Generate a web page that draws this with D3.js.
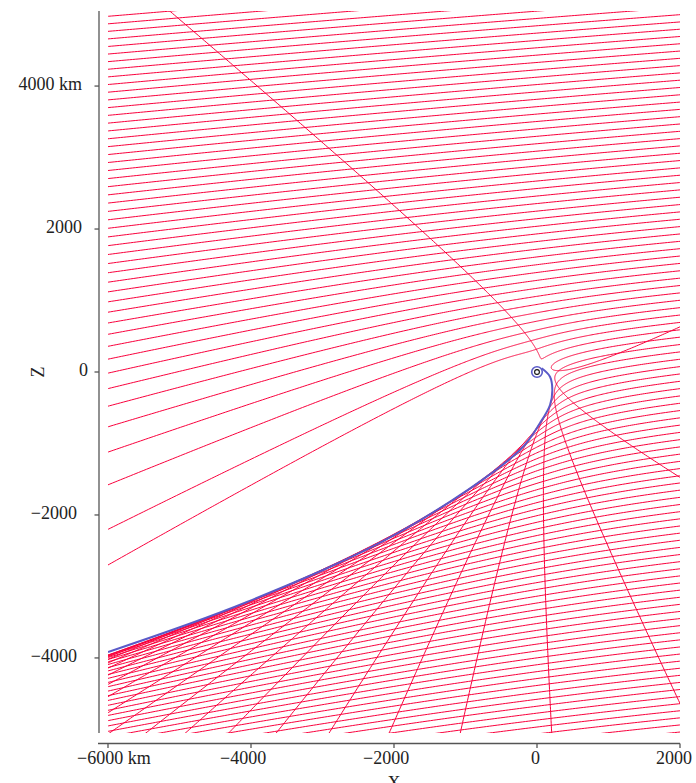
<!DOCTYPE html>
<html>
<head>
<meta charset="utf-8">
<script src="https://cdn.jsdelivr.net/npm/d3@7"></script>
<style>
  html, body { margin: 0; padding: 0; background: #fff; }
  svg { display: block; }
  text { font-family: "Liberation Serif", "DejaVu Serif", serif; fill: #222; }
</style>
</head>
<body>
<svg id="chart" width="696" height="783"></svg>
<script>
// Plot window (km)
const xDomain = [-6000, 2000];
const zDomain = [-5050, 5050];

// Tick labels
const xTicks = [-6000, -4000, -2000, 0, 2000];
const xTickLabels = ["\u22126000 km", "\u22124000", "\u22122000", "0", "2000"];
const zTicks = [4000, 2000, 0, -2000, -4000];
const zTickLabels = ["4000 km", "2000", "0", "\u22122000", "\u22124000"];

// Incoming stream: heading of the particles far upstream (degrees) and
// the impact parameters (km) of the traced trajectories
const beamHeadingDeg = 183.5;
const impactParameters = [
  -5313, -5213, -5113, -5013, -4913, -4813, -4713, -4613, -4513, -4413,
  -4313, -4213, -4113, -4013, -3913, -3813, -3713, -3613, -3513, -3413,
  -3313, -3213, -3113, -3013, -2913, -2813, -2713, -2613, -2513, -2413,
  -2313, -2213, -2113, -2013, -1913, -1813, -1713, -1613, -1513, -1413,
  -1313, -1213, -1113, -1013, -913, -813, -713, -613, -513, -413,
  -313, -213, -113, -13, 87, 187, 287, 387, 487, 587,
  687, 787, 887, 987, 1087, 1187, 1287, 1387, 1487, 1587,
  1687, 1787, 1887, 1987, 2087, 2187, 2287, 2387, 2487, 2587,
  2687, 2787, 2887, 2987, 3087, 3187, 3287, 3387, 3487, 3587,
  3687, 3787, 3887, 3987, 4087, 4187, 4287, 4387, 4487, 4587,
  4687, 4787, 4887, 4987, 5087, 5187, 5287, 5387, 5487, 5587,
  5687, 5787
];
// Field strengths (km): radial repulsion and transverse (gyrating) term
const radialStrength = 95;
const transverseStrength = 130;

// Envelope of the deflected stream (km)
const envelopeX = [66, 182, 214, 182, 42, -238, -1916, -4056, -6000];
const envelopeZ = [52, -66, -252, -462, -713, -1091, -2238, -3217, -3916];

// Central body (km)
const bodyX = 0, bodyZ = 0;

const svg = d3.select("#chart");
const x = d3.scaleLinear().domain(xDomain).range([108, 680]);
const y = d3.scaleLinear().domain(zDomain).range([733, 11]);

svg.append("defs").append("clipPath").attr("id", "plotclip")
  .append("rect")
  .attr("x", x(xDomain[0])).attr("y", y(zDomain[1]))
  .attr("width", x(xDomain[1]) - x(xDomain[0]))
  .attr("height", y(zDomain[0]) - y(zDomain[1]));

// Equations of motion: unit speed at infinity
function accel(px, pz, vx, vz) {
  const r2 = px * px + pz * pz;
  const r = Math.sqrt(r2);
  const r3 = r2 * r;
  return [
    radialStrength * px / r3 - transverseStrength * vz / r2,
    radialStrength * pz / r3 + transverseStrength * vx / r2
  ];
}

// RK4 integration of one trajectory, started far upstream
function trace(b) {
  const th = beamHeadingDeg * Math.PI / 180;
  const wx = Math.cos(th), wz = Math.sin(th);
  const nx = wz, nz = -wx;
  const L0 = 30000;
  let px = b * nx - L0 * wx, pz = b * nz - L0 * wz;
  const r0 = Math.hypot(px, pz);
  const sp = Math.sqrt(Math.max(0.01, 1 - 2 * radialStrength / r0));
  let vx = wx * sp, vz = wz * sp;
  const pts = [];
  for (let i = 0; i < 60000; i++) {
    const r = Math.hypot(px, pz);
    if (px > -9000 && px < 5000 && pz > -8000 && pz < 8000) pts.push([px, pz]);
    if (i > 10 && r > L0 + 100) break;
    const h = Math.max(0.25, Math.min(40, 0.02 * r));
    const a1 = accel(px, pz, vx, vz);
    const k1 = [vx, vz, a1[0], a1[1]];
    const a2 = accel(px + h / 2 * k1[0], pz + h / 2 * k1[1], vx + h / 2 * k1[2], vz + h / 2 * k1[3]);
    const k2 = [vx + h / 2 * k1[2], vz + h / 2 * k1[3], a2[0], a2[1]];
    const a3 = accel(px + h / 2 * k2[0], pz + h / 2 * k2[1], vx + h / 2 * k2[2], vz + h / 2 * k2[3]);
    const k3 = [vx + h / 2 * k2[2], vz + h / 2 * k2[3], a3[0], a3[1]];
    const a4 = accel(px + h * k3[0], pz + h * k3[1], vx + h * k3[2], vz + h * k3[3]);
    const k4 = [vx + h * k3[2], vz + h * k3[3], a4[0], a4[1]];
    px += h / 6 * (k1[0] + 2 * k2[0] + 2 * k3[0] + k4[0]);
    pz += h / 6 * (k1[1] + 2 * k2[1] + 2 * k3[1] + k4[1]);
    vx += h / 6 * (k1[2] + 2 * k2[2] + 2 * k3[2] + k4[2]);
    vz += h / 6 * (k1[3] + 2 * k2[3] + 2 * k3[3] + k4[3]);
  }
  return pts;
}

const line = d3.line().x(d => x(d[0])).y(d => y(d[1]));
const plot = svg.append("g").attr("clip-path", "url(#plotclip)");

plot.selectAll("path.traj")
  .data(impactParameters.map(trace))
  .join("path")
  .attr("class", "traj")
  .attr("d", line)
  .attr("fill", "none")
  .attr("stroke", "rgb(250,0,60)")
  .attr("stroke-width", 1);

plot.append("path")
  .datum(envelopeX.map((v, i) => [v, envelopeZ[i]]))
  .attr("d", d3.line().x(d => x(d[0])).y(d => y(d[1])).curve(d3.curveCatmullRom))
  .attr("fill", "none")
  .attr("stroke", "rgb(90,90,200)")
  .attr("stroke-width", 2);

// Central body
svg.append("circle").attr("cx", x(bodyX)).attr("cy", y(bodyZ)).attr("r", 5.3)
  .attr("fill", "#fff").attr("stroke", "rgb(90,90,200)").attr("stroke-width", 1.6);
svg.append("circle").attr("cx", x(bodyX)).attr("cy", y(bodyZ)).attr("r", 2.4)
  .attr("fill", "#fff").attr("stroke", "#111").attr("stroke-width", 1.1);

// Axes
const axisColor = "#555";
const yAxisX = 99, xAxisY = 743.5;
svg.append("line").attr("x1", yAxisX).attr("x2", yAxisX)
  .attr("y1", y(zDomain[1])).attr("y2", y(zDomain[0]))
  .attr("stroke", axisColor).attr("stroke-width", 1.3);
svg.append("line").attr("x1", yAxisX - 1).attr("x2", x(xDomain[1]))
  .attr("y1", xAxisY).attr("y2", xAxisY)
  .attr("stroke", axisColor).attr("stroke-width", 1.3);

svg.selectAll("line.zt").data(zTicks).join("line").attr("class", "zt")
  .attr("x1", yAxisX - 4.5).attr("x2", yAxisX)
  .attr("y1", d => y(d)).attr("y2", d => y(d))
  .attr("stroke", axisColor).attr("stroke-width", 1.3);
svg.selectAll("line.xt").data(xTicks).join("line").attr("class", "xt")
  .attr("x1", d => x(d)).attr("x2", d => x(d))
  .attr("y1", xAxisY).attr("y2", xAxisY + 4.5)
  .attr("stroke", axisColor).attr("stroke-width", 1.3);

svg.selectAll("text.zl").data(zTicks).join("text").attr("class", "zl")
  .attr("x", d => d < 0 ? 77 : (d === 0 ? 88 : 82))
  .attr("y", d => y(d) + 4)
  .attr("text-anchor", "end")
  .attr("font-size", 18)
  .text((d, i) => zTickLabels[i]);

svg.selectAll("text.xl").data(xTicks).join("text").attr("class", "xl")
  .attr("y", 764)
  .attr("font-size", 18)
  .text((d, i) => xTickLabels[i])
  .each(function (d, i) {
    const num = xTickLabels[i].replace(" km", "");
    const probe = svg.append("text").attr("font-size", 18).text(num);
    const w = probe.node().getComputedTextLength();
    probe.remove();
    d3.select(this).attr("x", x(d) - 0.67 * w);
  });

svg.append("text").attr("x", 394).attr("y", 789).attr("text-anchor", "middle")
  .attr("font-size", 18).text("X");
svg.append("text").attr("transform", "translate(44,372) rotate(-90)")
  .attr("text-anchor", "middle").attr("font-size", 18).text("Z");
</script>
</body>
</html>
